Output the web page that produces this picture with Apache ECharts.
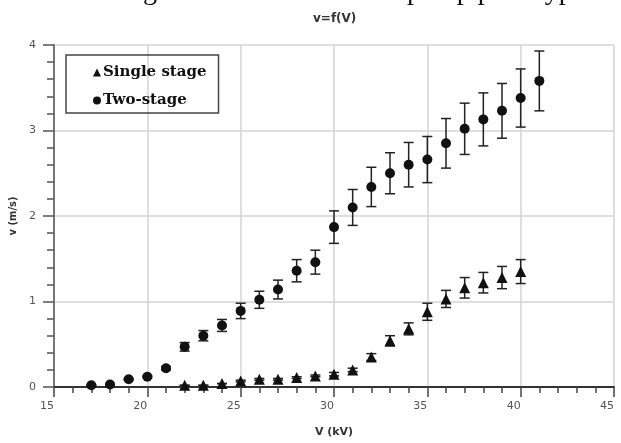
<!DOCTYPE html>
<html>
<head>
<meta charset="utf-8">
<script src="https://cdn.jsdelivr.net/npm/echarts@6/dist/echarts.min.js"></script>
<style>html,body{margin:0;padding:0;background:#fff;}#c{width:621px;height:443px;}</style>
</head>
<body>
<div id="c"></div>
<script>
// Data
var voltageTwo = [17,18,19,20,21,22,23,24,25,26,27,28,29,30,31,32,33,34,35,36,37,38,39,40,41];
var speedTwo   = [0.02,0.03,0.09,0.12,0.22,0.47,0.60,0.72,0.89,1.02,1.14,1.36,1.46,1.87,2.10,2.34,2.50,2.60,2.66,2.85,3.02,3.13,3.23,3.38,3.58];
var errTwo     = [0.00,0.00,0.01,0.01,0.02,0.05,0.06,0.07,0.09,0.10,0.11,0.13,0.14,0.19,0.21,0.23,0.24,0.26,0.27,0.29,0.30,0.31,0.32,0.34,0.35];
var voltageSingle = [22,23,24,25,26,27,28,29,30,31,32,33,34,35,36,37,38,39,40];
var speedSingle   = [0.02,0.02,0.04,0.07,0.09,0.09,0.11,0.13,0.15,0.20,0.35,0.54,0.68,0.88,1.03,1.16,1.22,1.28,1.35];
var errSingle     = [0.00,0.00,0.00,0.01,0.01,0.01,0.01,0.01,0.02,0.02,0.04,0.06,0.07,0.10,0.10,0.12,0.12,0.13,0.14];
var xTicks = [15,20,25,30,35,40,45];
var yTicks = [0,1,2,3,4];

function pts(xs, ys){ return xs.map(function(x,i){ return [x, ys[i]]; }); }
function bars(xs, ys, es){ return xs.map(function(x,i){ return [x, ys[i]-es[i], ys[i]+es[i]]; }); }

function renderErr(params, api){
  var x = api.value(0), lo = api.value(1), hi = api.value(2);
  var a = api.coord([x, lo]), b = api.coord([x, hi]);
  var w = 5;
  var st = {stroke:'#222', lineWidth:1.5};
  return {type:'group', children:[
    {type:'line', shape:{x1:a[0],y1:a[1],x2:b[0],y2:b[1]}, style:st},
    {type:'line', shape:{x1:a[0]-w,y1:a[1],x2:a[0]+w,y2:a[1]}, style:st},
    {type:'line', shape:{x1:b[0]-w,y1:b[1],x2:b[0]+w,y2:b[1]}, style:st}
  ]};
}

var chart = echarts.init(document.getElementById('c'), null, {renderer:'canvas'});
chart.setOption({
  backgroundColor:'#fff',
  animation:false,
  title:{text:'v=f(V)', left:308, top:8, textStyle:{fontFamily:'DejaVu Sans', fontWeight:'bold', fontSize:12, color:'#333'}},
  graphic:[
    {type:'text', left:17, top:-22, style:{text:'shown in figure 10 for the two', font:'28px "Liberation Serif"', fill:'#111'}},
    {type:'text', left:407, top:-22, style:{text:'pump prototypes.', font:'28px "Liberation Serif"', fill:'#111'}}
  ],
  legend:{
    left:66, top:55, orient:'vertical', padding:[10,12,5,27], itemGap:13,
    itemWidth:8, itemHeight:8, borderColor:'#444', borderWidth:1.5,
    textStyle:{fontFamily:'DejaVu Serif', fontWeight:'bold', fontSize:15, color:'#111', padding:[0,0,0,-3]},
    data:[{name:'Single stage', icon:'triangle'},{name:'Two-stage', icon:'circle'}]
  },
  grid:{left:54, right:7, top:45, bottom:54, containLabel:false},
  xAxis:{
    type:'value', min:xTicks[0], max:xTicks[xTicks.length-1], interval:5,
    name:'V (kV)', nameLocation:'middle', nameGap:40,
    nameTextStyle:{fontFamily:'DejaVu Sans', fontWeight:'bold', fontSize:11, color:'#333'},
    axisLine:{show:true, onZero:false, lineStyle:{color:'#333', width:2}},
    axisTick:{show:true, inside:false, length:10, lineStyle:{color:'#444', width:1.5}},
    minorTick:{show:true, splitNumber:5, length:6, lineStyle:{color:'#444', width:1.5}},
    axisLabel:{margin:14, align:'right', fontFamily:'DejaVu Sans', fontSize:11, color:'#555'},
    splitLine:{show:true, lineStyle:{color:'#d4d4d4', width:1.5}}
  },
  yAxis:{
    type:'value', min:yTicks[0], max:yTicks[yTicks.length-1], interval:1,
    name:'v (m/s)', nameLocation:'middle', nameGap:32,
    nameTextStyle:{fontFamily:'DejaVu Sans', fontWeight:'bold', fontSize:10, color:'#333'},
    axisLine:{show:true, onZero:false, lineStyle:{color:'#555', width:1.5}},
    axisTick:{show:true, inside:false, length:11, lineStyle:{color:'#555', width:1.5}},
    minorTick:{show:true, splitNumber:5, length:7, lineStyle:{color:'#555', width:1.5}},
    axisLabel:{margin:18, fontFamily:'DejaVu Sans', fontSize:11, color:'#555'},
    splitLine:{show:true, lineStyle:{color:'#d4d4d4', width:1.5}}
  },
  series:[
    {name:'errTwo', type:'custom', renderItem:renderErr, data:bars(voltageTwo, speedTwo, errTwo), encode:{x:0, y:[1,2]}, z:2},
    {name:'errSingle', type:'custom', renderItem:renderErr, data:bars(voltageSingle, speedSingle, errSingle), encode:{x:0, y:[1,2]}, z:2},
    {name:'Single stage', type:'scatter', symbol:'triangle', symbolSize:11, itemStyle:{color:'#111', opacity:1}, data:pts(voltageSingle, speedSingle), z:3},
    {name:'Two-stage', type:'scatter', symbol:'circle', symbolSize:10, itemStyle:{color:'#111', opacity:1}, data:pts(voltageTwo, speedTwo), z:3}
  ]
});
</script>
</body>
</html>
